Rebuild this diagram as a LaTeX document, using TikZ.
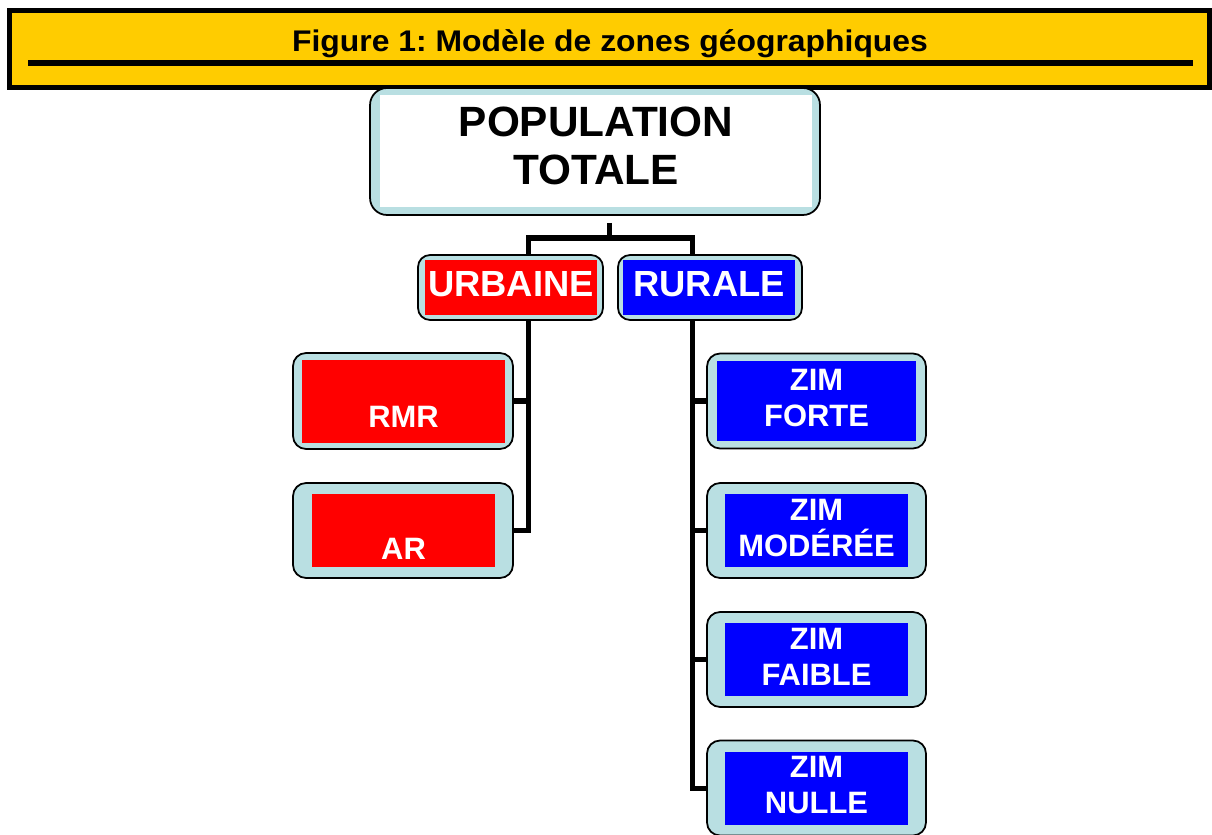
\documentclass[tikz,border=0pt]{standalone}
\usepackage{fontspec}
\setmainfont{Liberation Sans}
\usepackage{graphicx}
\frenchspacing
\definecolor{bannergold}{HTML}{FFCC00}
\definecolor{framecyan}{HTML}{B9DFE2}
\definecolor{zonered}{HTML}{FF0000}
\definecolor{zoneblue}{HTML}{0000FF}

\begin{document}
\begin{tikzpicture}[x=0.02cm,y=-0.02cm,
	zone/.style={draw=black,line width=1pt,fill=framecyan,rounded corners=0.26cm},
	pane/.style={inner sep=0pt,text=white,align=center,font=\fontsize{17.6}{20.5}\selectfont\bfseries},
	link/.style={line width=2.85pt}]

\useasboundingbox (0,0) rectangle (1212,834);

% The banner
\node[draw=black,line width=2.85pt,fill=bannergold,minimum width=24cm,minimum height=1.54cm,inner sep=0pt] (banner) at (609.5,49) {};
\draw[line width=3.3pt] (28,63) -- (1193,63);
\node[anchor=base,inner sep=0pt,font=\fontsize{17}{20}\selectfont\bfseries] (title) at (610,52) {\scalebox{1.067}[1]{Figure 1: Modèle de zones géographiques}};

% Total population
\node[zone,rounded corners=0.34cm,minimum width=9cm,minimum height=2.54cm] (pop) at (595,151.5) {};
\node[pane,fill=white,text=black,minimum width=8.64cm,minimum height=2.24cm,font=\fontsize{24.1}{27.5}\selectfont\bfseries,text depth=6pt] (pop-in) at (596,151) {POPULATION\\TOTALE};

% Urban and rural
\node[zone,rounded corners=0.24cm,minimum width=3.7cm,minimum height=1.3cm] (urb) at (510.5,287.5) {};
\node[pane,fill=zonered,minimum width=3.44cm,minimum height=1.1cm,font=\fontsize{20.7}{24}\selectfont\bfseries,text depth=4.5pt] (urb-in) at (511,287.5) {URBAINE};
\node[zone,rounded corners=0.24cm,minimum width=3.68cm,minimum height=1.3cm] (rur) at (710,287.5) {};
\node[pane,fill=zoneblue,minimum width=3.44cm,minimum height=1.1cm,font=\fontsize{20.7}{24}\selectfont\bfseries,text depth=4.5pt] (rur-in) at (709,287.5) {RURALE};

% Urban zones
\node[zone,minimum width=4.4cm,minimum height=1.92cm] (rmr) at (403,401) {};
\node[pane,fill=zonered,minimum width=4.06cm,minimum height=1.66cm,text depth=3.3pt] (rmr-in) at (403.5,401.5) {\phantom{Z}\\RMR};
\node[zone,minimum width=4.4cm,minimum height=1.9cm] (ar) at (403,530.5) {};
\node[pane,fill=zonered,minimum width=3.66cm,minimum height=1.46cm] (ar-in) at (403.5,530.5) {\phantom{Z}\\AR};

% Rural zones
\foreach \zname/\zy/\zw/\zh/\ztext in {forte/401/3.98/1.62/FORTE, moderee/530.5/3.66/1.46/MODÉRÉE, faible/659.5/3.66/1.46/FAIBLE, nulle/788/3.66/1.46/NULLE}{
	\node[zone,minimum width=4.38cm,minimum height=1.9cm] (\zname) at (816.5,\zy) {};
	\node[pane,fill=zoneblue,minimum width=\zw cm,minimum height=\zh cm,text depth=3.3pt] (\zname-in) at (816.5,\zy) {ZIM\\\ztext};
}

% Connectors
\coordinate (hub) at (609,238);
\coordinate (ubus) at (528,238);
\coordinate (rbus) at (692,238);
\draw[link,shorten <=0.14cm] (pop.south -| hub) -- (hub);
\draw[link] (urb.north -| ubus) -- (ubus) -- (rbus) -- (rur.north -| rbus);
\draw[link] (urb.south -| ubus) -- (ar.east -| ubus) -- (ar.east);
\draw[link] (rmr.east -| ubus) -- (rmr.east);
\draw[link] (rur.south -| rbus) -- (nulle.west -| rbus) -- (nulle.west);
\foreach \zname in {forte,moderee,faible}
	\draw[link] (\zname.west -| rbus) -- (\zname.west);

\end{tikzpicture}
\end{document}
